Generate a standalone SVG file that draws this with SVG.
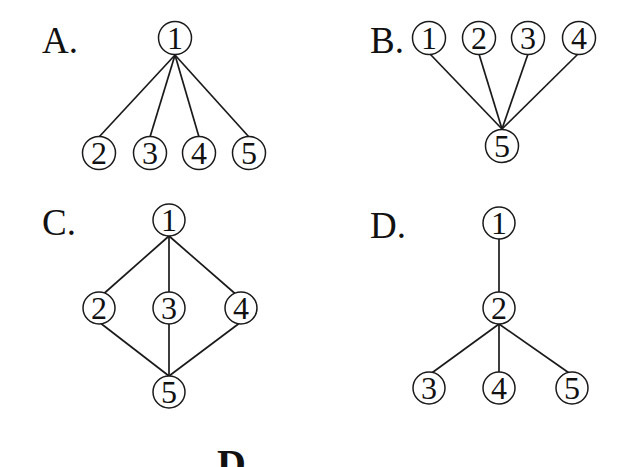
<svg xmlns="http://www.w3.org/2000/svg" width="634" height="467" viewBox="0 0 634 467">
<style>
.n circle{fill:#fff;stroke:#1a1a1a;stroke-width:1.5}
.n text{font-family:"Liberation Serif",serif;font-size:32px;fill:#111;text-anchor:middle}
.lab{font-family:"Liberation Serif",serif;font-size:37px;fill:#111}
.e line{stroke:#1a1a1a;stroke-width:1.7}
</style>
<rect width="634" height="467" fill="#fff"/>
<g class="e" id="connectors">
<line x1="175" y1="55" x2="99" y2="137"/>
<line x1="175" y1="55" x2="150" y2="137"/>
<line x1="175" y1="55" x2="199" y2="137"/>
<line x1="175" y1="55" x2="249" y2="137"/>
<line x1="430" y1="54" x2="502" y2="129"/>
<line x1="479" y1="54" x2="502" y2="129"/>
<line x1="528" y1="54" x2="502" y2="129"/>
<line x1="578" y1="54" x2="502" y2="129"/>
<line x1="169" y1="236" x2="100" y2="297"/>
<line x1="169" y1="236" x2="169" y2="292"/>
<line x1="169" y1="236" x2="239" y2="297"/>
<line x1="99" y1="322" x2="169" y2="376"/>
<line x1="169" y1="324" x2="169" y2="376"/>
<line x1="241" y1="322" x2="169" y2="376"/>
<line x1="499" y1="239" x2="499" y2="292"/>
<line x1="499" y1="324" x2="429" y2="375"/>
<line x1="499" y1="324" x2="499" y2="372"/>
<line x1="499" y1="324" x2="572" y2="375"/>
</g>
<text class="lab" x="42" y="53">A.</text>
<text class="lab" x="370" y="53">B.</text>
<text class="lab" x="42" y="235">C.</text>
<text class="lab" x="370" y="238">D.</text>
<g id="A1" class="n"><circle cx="175" cy="38" r="16.5"/><text x="175" y="49">1</text></g>
<g id="A2" class="n"><circle cx="99" cy="153" r="16.5"/><text x="99" y="164">2</text></g>
<g id="A3" class="n"><circle cx="150" cy="153" r="16.5"/><text x="150" y="164">3</text></g>
<g id="A4" class="n"><circle cx="199" cy="153" r="16.5"/><text x="199" y="164">4</text></g>
<g id="A5" class="n"><circle cx="249" cy="153" r="16.5"/><text x="249" y="164">5</text></g>
<g id="B1" class="n"><circle cx="429" cy="38" r="16.5"/><text x="429" y="49">1</text></g>
<g id="B2" class="n"><circle cx="479" cy="38" r="16.5"/><text x="479" y="49">2</text></g>
<g id="B3" class="n"><circle cx="528" cy="38" r="16.5"/><text x="528" y="49">3</text></g>
<g id="B4" class="n"><circle cx="579" cy="38" r="16.5"/><text x="579" y="49">4</text></g>
<g id="B5" class="n"><circle cx="502" cy="146" r="16.5"/><text x="502" y="157">5</text></g>
<g id="C1" class="n"><circle cx="169" cy="220" r="16"/><text x="169" y="231">1</text></g>
<g id="C2" class="n"><circle cx="99" cy="308" r="16"/><text x="99" y="319">2</text></g>
<g id="C3" class="n"><circle cx="169" cy="308" r="16"/><text x="169" y="319">3</text></g>
<g id="C4" class="n"><circle cx="241" cy="308" r="16"/><text x="241" y="319">4</text></g>
<g id="C5" class="n"><circle cx="169" cy="392" r="16"/><text x="169" y="403">5</text></g>
<g id="D1" class="n"><circle cx="499" cy="223" r="16"/><text x="499" y="234">1</text></g>
<g id="D2" class="n"><circle cx="499" cy="308" r="16"/><text x="499" y="319">2</text></g>
<g id="D3" class="n"><circle cx="429" cy="388" r="16"/><text x="429" y="399">3</text></g>
<g id="D4" class="n"><circle cx="499" cy="388" r="16"/><text x="499" y="399">4</text></g>
<g id="D5" class="n"><circle cx="572" cy="388" r="16"/><text x="572" y="399">5</text></g>
<text x="217" y="477" style="font-family:'Liberation Serif',serif;font-size:40px;font-weight:bold;fill:#111">D</text>
</svg>
